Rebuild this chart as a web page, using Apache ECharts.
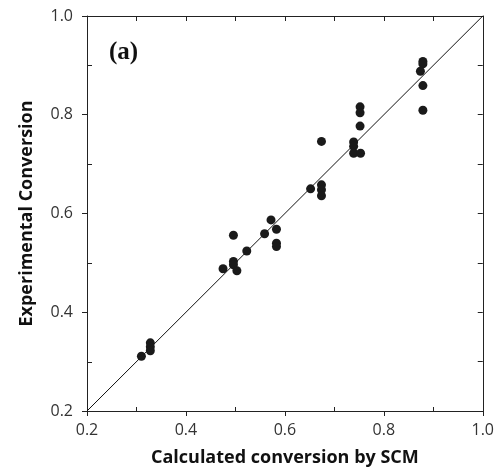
<!DOCTYPE html>
<html>
<head>
<meta charset="utf-8">
<script src="https://cdn.jsdelivr.net/npm/echarts@6.0.0/dist/echarts.min.js"></script>
</head>
<body style="margin:0; padding:0; background:#fff;">
<div id="chart" style="width:497px; height:472px;"></div>
<script type="text/javascript">
// calculated conversion (SCM) vs experimental conversion
const calcX = [0.310, 0.328, 0.328, 0.328, 0.475, 0.496, 0.496, 0.496, 0.503, 0.523,
               0.559, 0.572, 0.583, 0.583, 0.583, 0.652, 0.674, 0.674, 0.674, 0.674,
               0.739, 0.739, 0.739, 0.753, 0.752, 0.752, 0.752, 0.879, 0.879, 0.874,
               0.879, 0.879];
const expY = [0.311, 0.338, 0.330, 0.322, 0.488, 0.556, 0.503, 0.496, 0.484, 0.524,
              0.559, 0.587, 0.568, 0.540, 0.533, 0.650, 0.658, 0.648, 0.636, 0.746,
              0.745, 0.736, 0.722, 0.722, 0.816, 0.804, 0.777, 0.908, 0.903, 0.888,
              0.859, 0.809];
const parityLine = [[0.2, 0.2], [1.0, 1.0]];
const minorTicks = [0.3, 0.5, 0.7, 0.9];

const points = calcX.map((x, i) => [x, expY[i]]);

const font = 'Open Sans';
const axisColor = '#222';

const plainAxis = {
	min: 0.2,
	max: 1.0,
	interval: 0.1,
	axisLine: { show: true, lineStyle: { color: axisColor, width: 1 } },
	axisTick: { show: true, inside: true, length: 5, lineStyle: { color: axisColor } },
	axisLabel: { show: false },
	splitLine: { show: false }
};

const option = {
	animation: false,
	backgroundColor: '#fff',
	title: {
		text: '(a)',
		left: 104,
		top: 35,
		textStyle: { fontFamily: 'Liberation Serif', fontWeight: 'bold', fontSize: 25, color: '#111' }
	},
	grid: [
		{ left: 87, top: 16, width: 396, height: 396 },
		{ left: 87, top: 16, width: 396, height: 396 }
	],
	xAxis: [
		{
			type: 'value', gridIndex: 0, position: 'bottom',
			min: 0.2, max: 1.0, interval: 0.2,
			name: 'Calculated conversion by SCM',
			nameLocation: 'middle',
			nameGap: 38,
			nameTextStyle: { fontFamily: font, fontWeight: 'bold', fontSize: 18, color: '#111' },
			axisLine: { show: true, lineStyle: { color: axisColor, width: 1 } },
			axisTick: { show: true, inside: false, length: 5, lineStyle: { color: axisColor } },
			axisLabel: { fontFamily: font, fontSize: 16, color: '#333', margin: 11,
				formatter: v => v.toFixed(1) },
			splitLine: { show: false }
		},
		Object.assign({ type: 'value', gridIndex: 0, position: 'top' }, plainAxis),
		Object.assign({}, plainAxis, {
			type: 'value', gridIndex: 1, position: 'bottom',
			axisLine: { show: false },
			axisTick: { show: true, inside: true, length: 5, customValues: minorTicks, lineStyle: { color: axisColor } }
		})
	],
	yAxis: [
		{
			type: 'value', gridIndex: 0, position: 'left',
			min: 0.2, max: 1.0, interval: 0.2,
			name: 'Experimental Conversion',
			nameLocation: 'middle',
			nameGap: 51,
			nameTextStyle: { fontFamily: font, fontWeight: 'bold', fontSize: 18, color: '#111' },
			axisLine: { show: true, lineStyle: { color: axisColor, width: 1 } },
			axisTick: { show: true, inside: false, length: 5, lineStyle: { color: axisColor } },
			axisLabel: { fontFamily: font, fontSize: 16, color: '#333', margin: 14,
				formatter: v => v.toFixed(1) },
			splitLine: { show: false }
		},
		Object.assign({ type: 'value', gridIndex: 0, position: 'right' }, plainAxis),
		Object.assign({}, plainAxis, {
			type: 'value', gridIndex: 1, position: 'left',
			axisLine: { show: false },
			axisTick: { show: true, inside: true, length: 5, customValues: minorTicks, lineStyle: { color: axisColor } }
		})
	],
	series: [
		{
			type: 'line',
			xAxisIndex: 0, yAxisIndex: 0,
			data: parityLine,
			symbol: 'none',
			lineStyle: { color: '#111', width: 1 },
			z: 1
		},
		{
			type: 'scatter',
			xAxisIndex: 0, yAxisIndex: 0,
			data: points,
			symbol: 'circle',
			symbolSize: 9,
			itemStyle: { color: '#1a1a1a', opacity: 1 },
			z: 2
		}
	]
};

var myChart = echarts.init(document.getElementById('chart'));
myChart.setOption(option);
</script>
</body>
</html>
